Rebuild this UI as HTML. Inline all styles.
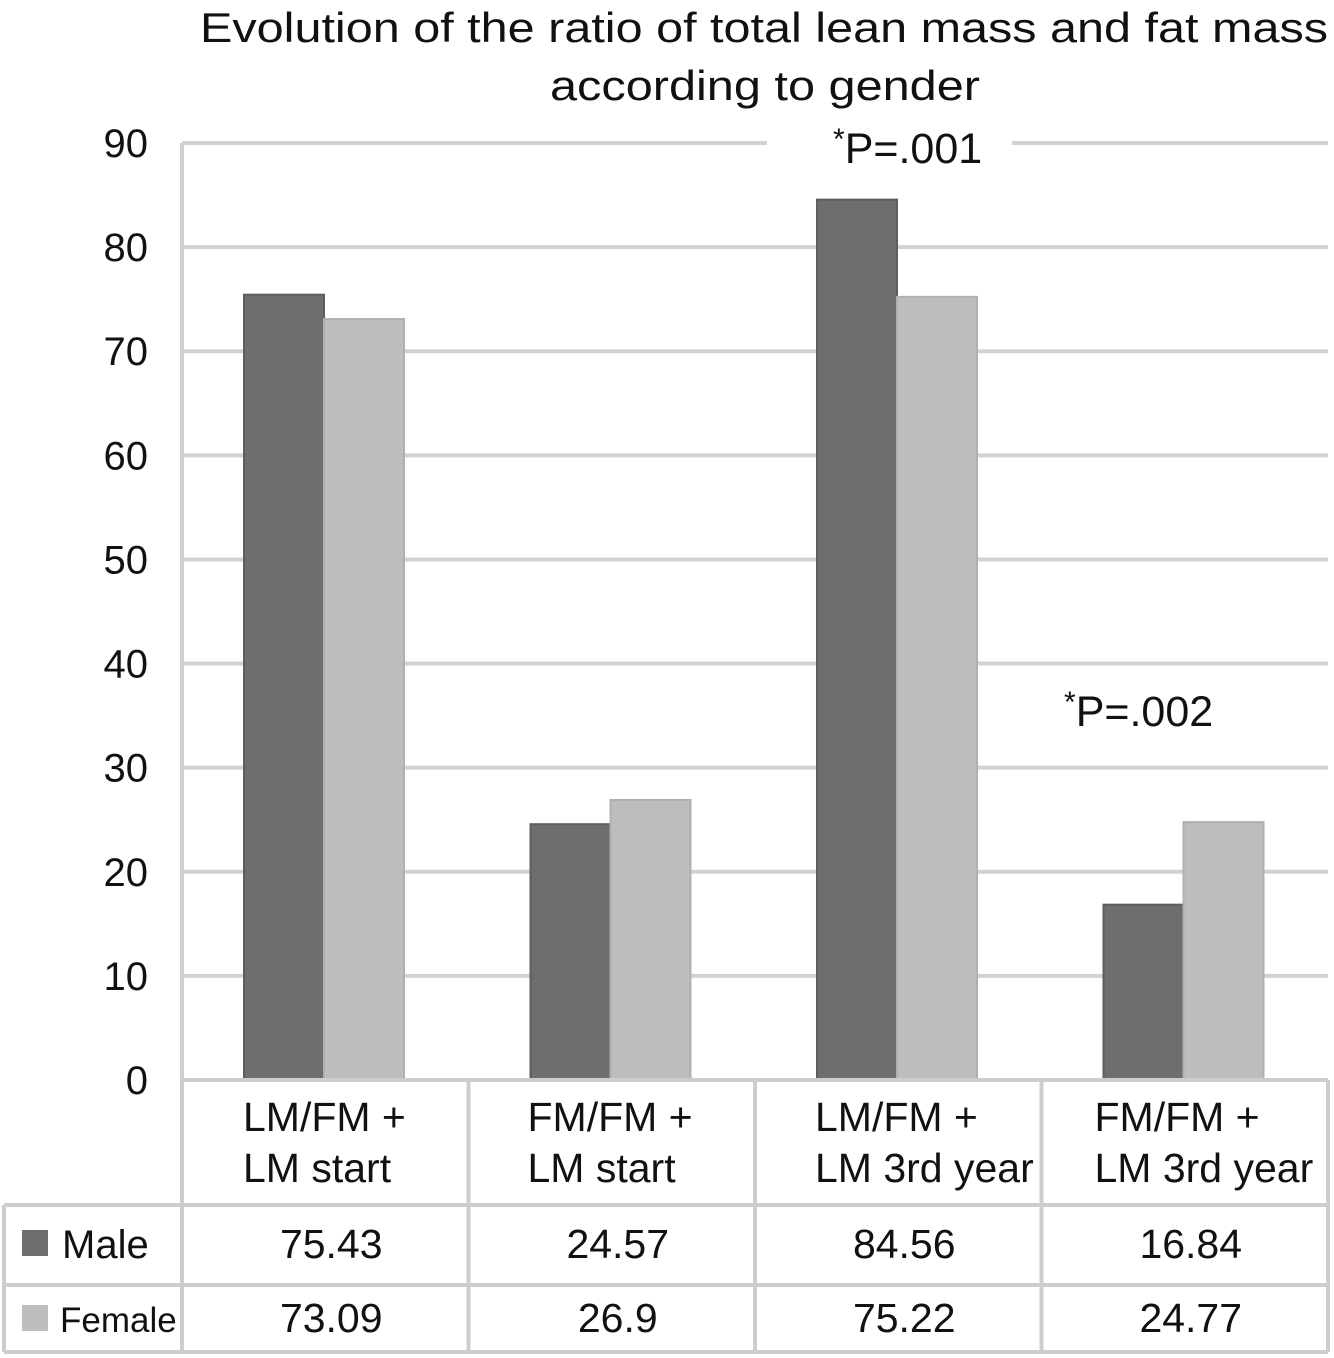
<!DOCTYPE html>
<html><head><meta charset="utf-8"><style>
body{margin:0;background:#fff;font-family:"Liberation Sans",Arial,sans-serif;}
svg{display:block}
</style></head><body>
<svg id="c" width="1334" height="1358" viewBox="0 0 1334 1358">
<text x="200" y="42" font-size="42" textLength="1128" lengthAdjust="spacingAndGlyphs" fill="#111">Evolution of the ratio of total lean mass and fat mass</text>
<text x="765" y="100" font-size="42" textLength="430" lengthAdjust="spacingAndGlyphs" text-anchor="middle" fill="#111">according to gender</text>
<g id="grid"></g><g id="bars"></g><g id="table"></g>
<text x="833" y="163" font-size="43" fill="#111"><tspan font-size="30" dy="-14">*</tspan><tspan dy="14">P=.001</tspan></text>
<text x="1064" y="726" font-size="43" fill="#111"><tspan font-size="30" dy="-14">*</tspan><tspan dy="14">P=.002</tspan></text>
</svg>
<script>
const categories1=["LM/FM +","FM/FM +","LM/FM +","FM/FM +"];
const categories2=["LM start","LM start","LM 3rd year","LM 3rd year"];
const maleValues=[75.43,24.57,84.56,16.84];
const femaleValues=[73.09,26.9,75.22,24.77];
const maleLabels=["75.43","24.57","84.56","16.84"];
const femaleLabels=["73.09","26.9","75.22","24.77"];
const yTicks=[0,10,20,30,40,50,60,70,80,90];
const NS="http://www.w3.org/2000/svg";
const X0=182,X1=1328,Y0=1080,YTOP=143,YMAX=90;
const cw=(X1-X0)/categories1.length;
function y(v){return Y0-(v/YMAX)*(Y0-YTOP);}
function mk(t,a,p){const e=document.createElementNS(NS,t);for(const k in a)e.setAttribute(k,a[k]);p.appendChild(e);return e;}
const G=document.getElementById('grid'),B=document.getElementById('bars'),T=document.getElementById('table');
yTicks.forEach(v=>{
  const yy=y(v);
  if(v===90){
    const a=mk('line',{x1:X0,x2:767,y1:yy,y2:yy,stroke:'#d2d2d2','stroke-width':4},G);
    
    
    const b=mk('line',{x1:1012,x2:X1,y1:yy,y2:yy,stroke:'#d2d2d2','stroke-width':4},G);
    
    
  } else if(v>0){
    const l=mk('line',{x1:X0,x2:X1,y1:yy,y2:yy,stroke:'#d2d2d2','stroke-width':4},G);
    
    
  }
  const t=mk('text',{x:148,y:yy+14,'font-size':40,'text-anchor':'end',fill:'#111'},G);
  t.textContent=v;
  
  
});
const ax=mk('line',{x1:X0,x2:X0,y1:YTOP,y2:Y0,stroke:'#cfcfcf','stroke-width':4},G);


const bw=80,off=62;
categories1.forEach((c,i)=>{
  const cx=X0+i*cw+off;
  const m=mk('rect',{x:cx,y:y(maleValues[i]),width:bw,height:Y0-y(maleValues[i]),fill:'#6e6e6e',stroke:'#5e5e5e','stroke-width':2},B);
  
  
  const f=mk('rect',{x:cx+bw,y:y(femaleValues[i]),width:bw,height:Y0-y(femaleValues[i]),fill:'#bdbdbd',stroke:'#b0b0b0','stroke-width':2},B);
  
  
});
function ln(x1,y1,x2,y2,n){const l=mk('line',{x1,y1,x2,y2,stroke:'#cdcdcd','stroke-width':4},T);}
ln(X0,Y0,X1,Y0,'table-top-line');
ln(4,1205,X1,1205,'table-row-line-1');
ln(4,1285,X1,1285,'table-row-line-2');
ln(4,1352,X1,1352,'table-bottom-line');
ln(4,1205,4,1352,'table-left-line');
for(let i=0;i<=4;i++){ln(X0+i*cw,Y0,X0+i*cw,1352,'table-col-line-'+i);}
function tx(x,yy,s,fs,n,anchor){const t=mk('text',{x,y:yy,'font-size':fs,'text-anchor':anchor||'middle',fill:'#111'},T);t.textContent=s;}
const labOff=[61,59,60,53];
categories1.forEach((c,i)=>{
  const cs=X0+i*cw;
  tx(cs+labOff[i],1131,c,41,'category-label-'+(i+1)+'-line1','start');
  tx(cs+labOff[i],1182,categories2[i],41,'category-label-'+(i+1)+'-line2','start');
  tx(cs+cw/2+6,1258,maleLabels[i],41,'male-value-'+(i+1));
  tx(cs+cw/2+6,1332,femaleLabels[i],41,'female-value-'+(i+1));
});
const k1=mk('rect',{x:22,y:1230,width:26,height:26,fill:'#6e6e6e'},T);


const k2=mk('rect',{x:22,y:1305,width:26,height:26,fill:'#bdbdbd'},T);


tx(62,1258,'Male',40,'legend-male','start');
tx(60,1332,'Female',35,'legend-female','start');
</script>
</body></html>
